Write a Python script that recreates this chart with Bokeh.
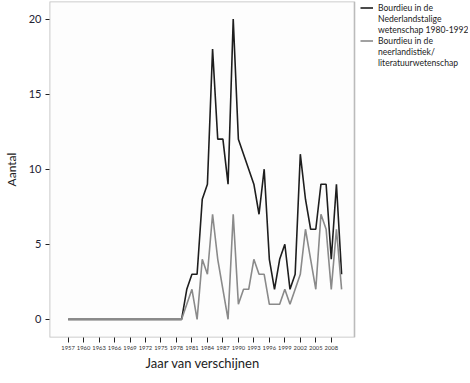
from bokeh.plotting import figure
from bokeh.models import Range1d, FixedTicker, Legend, LegendItem, BoxAnnotation, Title
from bokeh.embed import file_html
from bokeh.resources import INLINE

years = [1957, 1958, 1959, 1960, 1961, 1962, 1963, 1964, 1965, 1966, 1967, 1968,
         1969, 1970, 1971, 1972, 1973, 1974, 1975, 1976, 1977, 1978, 1979,
         1980, 1981, 1982, 1983, 1984, 1985, 1986, 1987, 1988, 1989, 1990,
         1991, 1992, 1993, 1994, 1995, 1996, 1997, 1998, 1999, 2000, 2001,
         2002, 2003, 2004, 2005, 2006, 2007, 2008, 2009, 2010]

nederlandstalig = [0, 0, 0, 0, 0, 0, 0, 0, 0, 0, 0, 0, 0, 0, 0, 0, 0, 0, 0, 0, 0, 0, 0,
                   2, 3, 3, 8, 9, 18, 12, 12, 9, 20, 12, 11, 10, 9, 7, 10, 4, 2, 4, 5,
                   2, 3, 11, 8, 6, 6, 9, 9, 4, 9, 3]

neerlandistiek = [0, 0, 0, 0, 0, 0, 0, 0, 0, 0, 0, 0, 0, 0, 0, 0, 0, 0, 0, 0, 0, 0, 0,
                  1, 2, 0, 4, 3, 7, 4, 2, 0, 7, 1, 2, 2, 4, 3, 3, 1, 1, 1, 2,
                  1, 2, 3, 6, 4, 2, 7, 6, 2, 6, 2]

x_ticks = [1957, 1960, 1963, 1966, 1969, 1972, 1975, 1978, 1981, 1984, 1987,
           1990, 1993, 1996, 1999, 2002, 2005, 2008]
y_ticks = [0, 5, 10, 15, 20]

legend_lines_1 = ["Bourdieu in de", "Nederlandstalige", "wetenschap 1980-1992"]
legend_lines_2 = ["Bourdieu in de", "neerlandistiek/", "literatuurwetenschap"]

FONT = "Lato"
X_START, X_BOX_END = 1953.4, 2012.5     # visible plot box in years
BOX_W = 305                             # px width of the plot box
FRAME_W = 419                           # frame also hosts the legend area
FRAME_H = 336
ITEM_H = 11
px_per_year = BOX_W / (X_BOX_END - X_START)
x_end = X_START + FRAME_W / px_per_year

p = figure(frame_width=FRAME_W, frame_height=FRAME_H, output_backend="svg", toolbar_location=None,
           x_range=Range1d(X_START, x_end), y_range=Range1d(-1.21, 21.17),
           min_border_top=1, min_border_left=0, min_border_right=0, min_border_bottom=0)

p.grid.visible = False
p.outline_line_color = None
p.background_fill_color = "white"
p.border_fill_color = "white"

# plot box (outline of the data area)
p.add_layout(BoxAnnotation(right=X_BOX_END, fill_color="#fdfdfd", fill_alpha=1.0,
                           line_color="#222222", line_width=1.6, level="underlay"))

r1 = p.line(years, nederlandstalig, line_color="#1e1e1e", line_width=1.6)
r2 = p.line(years, neerlandistiek, line_color="#8a8a8a", line_width=1.6)
blank = p.line([], [], line_alpha=0)

# axes
xa = p.xaxis[0]
xa.ticker = FixedTicker(ticks=x_ticks)
xa.axis_line_color = None
xa.major_tick_in = 0
xa.major_tick_out = 5
xa.major_tick_line_color = "#222222"
xa.minor_tick_line_color = None
xa.major_label_text_font = FONT
xa.major_label_text_font_size = "5.8px"
xa.major_label_text_color = "#333333"
xa.major_label_standoff = 3

xlabel = Title(text="Jaar van verschijnen", align="left", offset=96,
               text_font=FONT, text_font_style="normal", text_font_size="13px",
               text_color="#222222", standoff=0)
p.add_layout(xlabel, "below")

ya = p.yaxis[0]
ya.ticker = FixedTicker(ticks=y_ticks)
ya.axis_line_color = None
ya.major_tick_in = 0
ya.major_tick_out = 4
ya.major_tick_line_color = "#222222"
ya.minor_tick_line_color = None
ya.major_label_text_font = FONT
ya.major_label_text_font_size = "11px"
ya.major_label_text_color = "#222233"
ya.major_label_standoff = 4
ya.axis_label = "Aantal"
ya.axis_label_text_font = FONT
ya.axis_label_text_font_style = "normal"
ya.axis_label_text_font_size = "12px"
ya.axis_label_text_color = "#222222"
ya.axis_label_standoff = 7

items = [LegendItem(label=legend_lines_1[0], renderers=[r1])]
items += [LegendItem(label=t, renderers=[blank]) for t in legend_lines_1[1:]]
items += [LegendItem(label=legend_lines_2[0], renderers=[r2])]
items += [LegendItem(label=t, renderers=[blank]) for t in legend_lines_2[1:]]

legend = Legend(items=items, location=(BOX_W + 6, FRAME_H - 1 - ITEM_H * len(items)),
                orientation="vertical",
                spacing=0, padding=0, margin=0,
                glyph_width=13, glyph_height=ITEM_H, label_height=ITEM_H,
                label_standoff=5, label_text_font=FONT, label_text_font_size="8.6px",
                label_text_color="#222222", label_text_baseline="middle",
                border_line_color=None, background_fill_alpha=0)
p.add_layout(legend, "center")

open("out.html", "w").write(file_html(p, INLINE))
